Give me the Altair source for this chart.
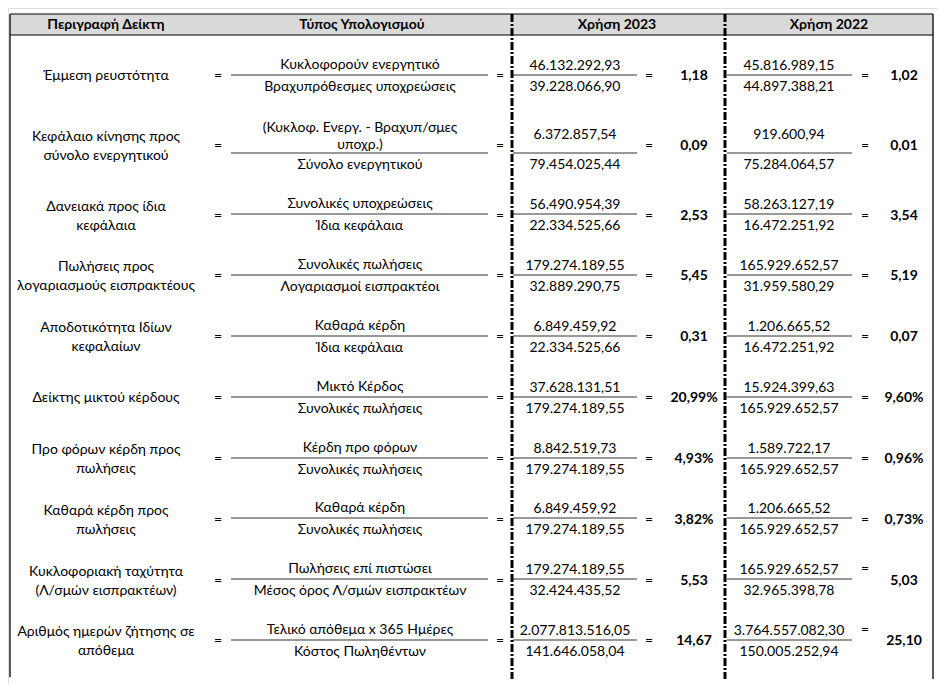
import altair as alt
import pandas as pd

# ---------------- data ----------------
headers = ["Περιγραφή Δείκτη", "Τύπος Υπολογισμού", "Χρήση 2023", "Χρήση 2022"]

descriptions = [
    "Έμμεση ρευστότητα",
    "Κεφάλαιο κίνησης προς\nσύνολο ενεργητικού",
    "Δανειακά προς ίδια\nκεφάλαια",
    "Πωλήσεις προς\nλογαριασμούς εισπρακτέους",
    "Αποδοτικότητα Ιδίων\nκεφαλαίων",
    "Δείκτης μικτού κέρδους",
    "Προ φόρων κέρδη προς\nπωλήσεις",
    "Καθαρά κέρδη προς\nπωλήσεις",
    "Κυκλοφοριακή ταχύτητα\n(Λ/σμών εισπρακτέων)",
    "Αριθμός ημερών ζήτησης σε\nαπόθεμα",
]
formula_num = [
    "Κυκλοφορούν ενεργητικό",
    "(Κυκλοφ. Ενεργ. - Βραχυπ/σμες\nυποχρ.)",
    "Συνολικές υποχρεώσεις",
    "Συνολικές πωλήσεις",
    "Καθαρά κέρδη",
    "Μικτό Κέρδος",
    "Κέρδη προ φόρων",
    "Καθαρά κέρδη",
    "Πωλήσεις επί πιστώσει",
    "Τελικό απόθεμα x 365 Ημέρες",
]
formula_den = [
    "Βραχυπρόθεσμες υποχρεώσεις",
    "Σύνολο ενεργητικού",
    "Ίδια κεφάλαια",
    "Λογαριασμοί εισπρακτέοι",
    "Ίδια κεφάλαια",
    "Συνολικές πωλήσεις",
    "Συνολικές πωλήσεις",
    "Συνολικές πωλήσεις",
    "Μέσος όρος Λ/σμών εισπρακτέων",
    "Κόστος Πωληθέντων",
]
num_2023 = ["46.132.292,93", "6.372.857,54", "56.490.954,39", "179.274.189,55", "6.849.459,92",
            "37.628.131,51", "8.842.519,73", "6.849.459,92", "179.274.189,55", "2.077.813.516,05"]
den_2023 = ["39.228.066,90", "79.454.025,44", "22.334.525,66", "32.889.290,75", "22.334.525,66",
            "179.274.189,55", "179.274.189,55", "179.274.189,55", "32.424.435,52", "141.646.058,04"]
res_2023 = ["1,18", "0,09", "2,53", "5,45", "0,31", "20,99%", "4,93%", "3,82%", "5,53", "14,67"]
num_2022 = ["45.816.989,15", "919.600,94", "58.263.127,19", "165.929.652,57", "1.206.665,52",
            "15.924.399,63", "1.589.722,17", "1.206.665,52", "165.929.652,57", "3.764.557.082,30"]
den_2022 = ["44.897.388,21", "75.284.064,57", "16.472.251,92", "31.959.580,29", "16.472.251,92",
            "165.929.652,57", "165.929.652,57", "165.929.652,57", "32.965.398,78", "150.005.252,94"]
res_2022 = ["1,02", "0,01", "3,54", "5,19", "0,07", "9,60%", "0,96%", "0,73%", "5,03", "25,10"]

# ---------------- layout (page pixel coordinates) ----------------
FONT = "Lato, 'Open Sans', sans-serif"
FS = 14
LH_DESC = 19
LH_FORM = 17
line_y = [75, 153, 214, 275, 336, 397, 458, 518, 579, 640]
mid_y = [76, 146, 216, 276, 337, 398, 459, 520, 581, 641]
fnum_y = [l - 10 for l in line_y]
fnum_y[1] = 128          # first line of the two-line numerator
nnum_y = [l - 9 for l in line_y]
nnum_y[1] = 135
den_y = [l + 12 for l in line_y]
den_y[1] = 165
eq22_y = list(mid_y)
eq22_y[8] = line_y[8] - 10
eq22_y[9] = line_y[9] - 10

X_DESC, X_EQ1, X_FORM = 106, 218, 360
X_EQ2, X_N23, X_EQ3, X_R23 = 500, 575, 649, 694
X_N22, X_EQ4, X_R22 = 789, 865, 904
HEAD_X = [106, 362, 617, 829]
LEFT, RIGHT, TOP, HEAD_BOT, BOT = 10, 933, 14, 35, 679
DASH_X = [512, 725]
frac_segments = [(231, 488), (513, 637), (727, 852)]

xs = alt.Scale(domain=[8, 938], nice=False, zero=False)
ys = alt.Scale(domain=[8, 684], nice=False, zero=False, reverse=True)


def X(f):
    return alt.X(f, type="quantitative", scale=xs, axis=None)


def Y(f):
    return alt.Y(f, type="quantitative", scale=ys, axis=None)


def first_line_y(center, text, lh):
    n = text.count("\n") + 1
    return center - (n - 1) * lh / 2


# header background
head_df = pd.DataFrame({"x": [LEFT], "x2": [RIGHT], "y": [TOP], "y2": [HEAD_BOT]})
head_rect = alt.Chart(head_df).mark_rect(color="#d9d9d9").encode(
    x=X("x"), x2="x2", y=Y("y"), y2="y2")

# horizontal border lines
hl_df = pd.DataFrame({"x": [LEFT, LEFT], "x2": [RIGHT, RIGHT], "y": [TOP, HEAD_BOT]})
h_lines = alt.Chart(hl_df).mark_rule(color="#000000", strokeWidth=1).encode(
    x=X("x"), x2="x2", y=Y("y"))

# vertical solid borders
vl_df = pd.DataFrame({"x": [LEFT, RIGHT], "y": [TOP, TOP], "y2": [BOT - 2, BOT]})
v_lines = alt.Chart(vl_df).mark_rule(color="#000000", strokeWidth=1.3).encode(
    x=X("x"), y=Y("y"), y2="y2")

# dash-dot separators
dl_df = pd.DataFrame({"x": DASH_X, "y": [TOP, TOP], "y2": [BOT, BOT]})
d_lines = alt.Chart(dl_df).mark_rule(color="#000000", strokeWidth=3, strokeDash=[8, 2, 2, 2]).encode(
    x=X("x"), y=Y("y"), y2="y2")

# fraction lines
fr_rows = []
for ly in line_y:
    for a, b in frac_segments:
        fr_rows.append({"x": a, "x2": b, "y": ly})
fr_df = pd.DataFrame(fr_rows)
f_lines = alt.Chart(fr_df).mark_rule(color="#333333", strokeWidth=1.1).encode(
    x=X("x"), x2="x2", y=Y("y"))

# texts
desc_rows = []
form_rows = []
bold_rows = []
for i in range(len(descriptions)):
    desc_rows += [
        {"x": X_DESC, "y": first_line_y(mid_y[i], descriptions[i], LH_DESC), "t": descriptions[i]},
        {"x": X_EQ1, "y": mid_y[i], "t": "="},
        {"x": X_EQ2, "y": mid_y[i], "t": "="},
        {"x": X_N23, "y": nnum_y[i], "t": num_2023[i]},
        {"x": X_N23, "y": den_y[i], "t": den_2023[i]},
        {"x": X_EQ3, "y": mid_y[i], "t": "="},
        {"x": X_N22, "y": nnum_y[i], "t": num_2022[i]},
        {"x": X_N22, "y": den_y[i], "t": den_2022[i]},
        {"x": X_EQ4, "y": eq22_y[i], "t": "="},
    ]
    form_rows += [
        {"x": X_FORM, "y": fnum_y[i], "t": formula_num[i]},
        {"x": X_FORM, "y": den_y[i], "t": formula_den[i]},
    ]
    bold_rows += [
        {"x": X_R23, "y": mid_y[i], "t": res_2023[i]},
        {"x": X_R22, "y": mid_y[i], "t": res_2022[i]},
    ]
for hx, h in zip(HEAD_X, headers):
    bold_rows.append({"x": hx, "y": (TOP + HEAD_BOT) / 2, "t": h})

txt_main = alt.Chart(pd.DataFrame(desc_rows)).mark_text(
    font=FONT, fontSize=FS, color="#000000", align="center", baseline="middle",
    lineBreak="\n", lineHeight=LH_DESC).encode(x=X("x"), y=Y("y"), text="t:N")
txt_form = alt.Chart(pd.DataFrame(form_rows)).mark_text(
    font=FONT, fontSize=FS, color="#000000", align="center", baseline="middle",
    lineBreak="\n", lineHeight=LH_FORM).encode(x=X("x"), y=Y("y"), text="t:N")
txt_bold = alt.Chart(pd.DataFrame(bold_rows)).mark_text(
    font=FONT, fontSize=FS, fontWeight="bold", color="#000000", align="center",
    baseline="middle").encode(x=X("x"), y=Y("y"), text="t:N")

chart = alt.layer(
    head_rect, h_lines, v_lines, f_lines, d_lines, txt_main, txt_form, txt_bold
).properties(
    width=930, height=676, padding=0, autosize=alt.AutoSizeParams(type="none")
).configure_view(stroke=None).configure(background="#ffffff")

chart.save("out.html", embed_options={"renderer": "svg", "actions": False})
